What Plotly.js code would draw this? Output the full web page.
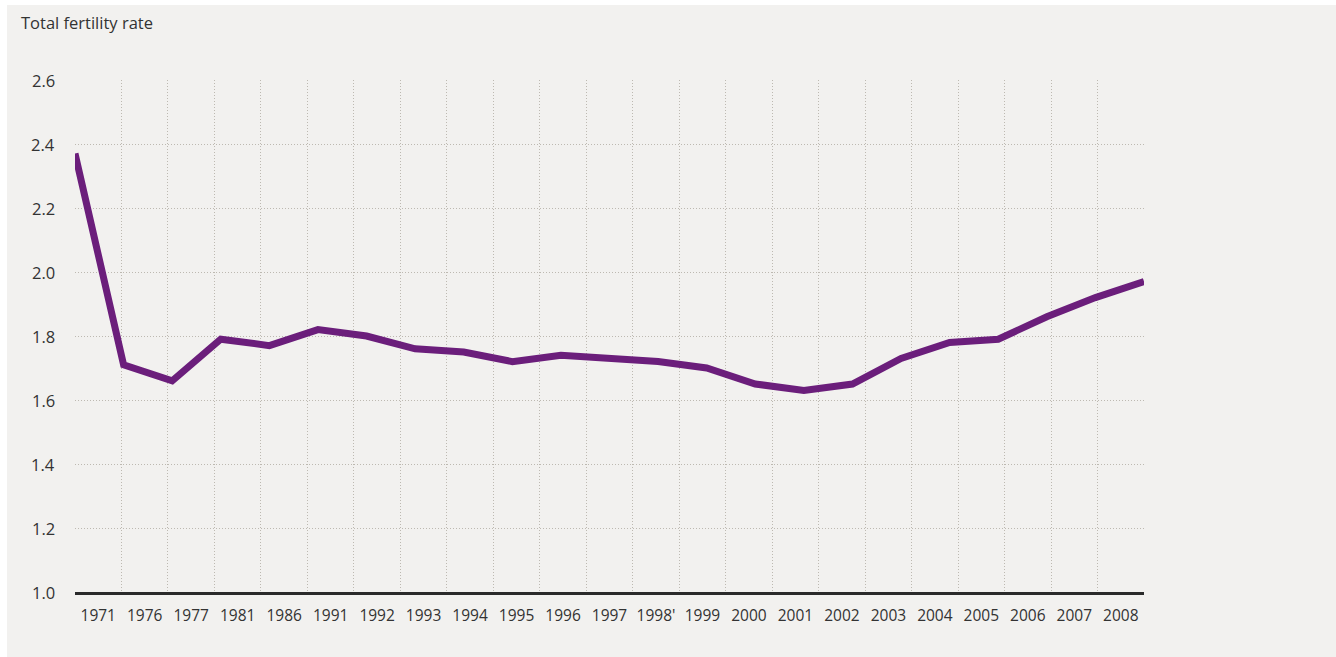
<!DOCTYPE html>
<html>
<head>
<meta charset="utf-8">
<script src="https://cdn.plot.ly/plotly-3.0.1.min.js"></script>
<style>
  html, body { margin: 0; padding: 0; background: #ffffff; }
  #chart { position: absolute; left: 7px; top: 5px; width: 1329px; height: 652px; }
</style>
</head>
<body>
<div id="chart"></div>
<script>
const years = ["1971","1976","1977","1981","1986","1991","1992","1993","1994","1995","1996","1997","1998'","1999","2000","2001","2002","2003","2004","2005","2006","2007","2008"];
const fertility = [2.37,1.71,1.66,1.79,1.77,1.82,1.80,1.76,1.75,1.72,1.74,1.73,1.72,1.70,1.65,1.63,1.65,1.73,1.78,1.79,1.86,1.92,1.97];
const yTicks = [1.0,1.2,1.4,1.6,1.8,2.0,2.2,2.4,2.6];
const yTickText = ["1.0","1.2","1.4","1.6","1.8","2.0","2.2","2.4","2.6"];
const yTitle = "Total fertility rate";

const FONT = "Open Sans";
const BG = "#f2f1ef";
const GRID = "#bdb9b1";

const data = [
  {x: years, y: fertility, xaxis: "x", yaxis: "y", type: "scatter", mode: "lines",
   line: {width: 0, color: "rgba(0,0,0,0)"}, hoverinfo: "skip", showlegend: false},
  {x: years, y: fertility, xaxis: "x2", yaxis: "y", type: "scatter", mode: "lines",
   line: {color: "#6b1e7b", width: 7}, cliponaxis: false, showlegend: false}
];

const yLabelAnnotations = yTicks.map((v, i) => ({
  text: yTickText[i], xref: "paper", yref: "y", x: 0, y: v,
  xanchor: "right", yanchor: "middle", xshift: -18,
  showarrow: false, font: {family: FONT, size: 16.5, color: "#333333"}
}));

const layout = {
  width: 1329, height: 652,
  paper_bgcolor: BG, plot_bgcolor: BG,
  margin: {l: 68, r: 192, t: 75, b: 65},
  showlegend: false,
  font: {family: FONT, color: "#333333", size: 14},
  xaxis: {
    type: "category", categoryorder: "array", categoryarray: years,
    range: [-0.5, years.length - 0.5],
    tickson: "boundaries",
    showgrid: true, gridcolor: GRID, griddash: "1px,2px", gridwidth: 1,
    ticks: "", ticklabelstandoff: 7, tickangle: 0,
    tickfont: {family: FONT, size: 15.5, color: "#333333"},
    showline: true, linecolor: "#2a2a2a", linewidth: 3,
    zeroline: false, fixedrange: true, automargin: false
  },
  xaxis2: {
    type: "category", categoryorder: "array", categoryarray: years,
    range: [0, years.length - 1],
    overlaying: "x", visible: false, fixedrange: true
  },
  yaxis: {
    range: [1.0, 2.6],
    tickvals: yTicks, ticktext: yTickText, showticklabels: false,
    showgrid: true, gridcolor: GRID, griddash: "1px,2px", gridwidth: 1,
    ticks: "",
    zeroline: false, showline: false, fixedrange: true, automargin: false
  },
  annotations: [{
    text: yTitle, xref: "paper", yref: "paper",
    x: -0.052, y: 1.113, xanchor: "left", yanchor: "middle",
    showarrow: false, font: {family: FONT, size: 16.5, color: "#333333"}
  }].concat(yLabelAnnotations)
};

Plotly.newPlot("chart", data, layout, {displayModeBar: false, staticPlot: true});
</script>
</body>
</html>
